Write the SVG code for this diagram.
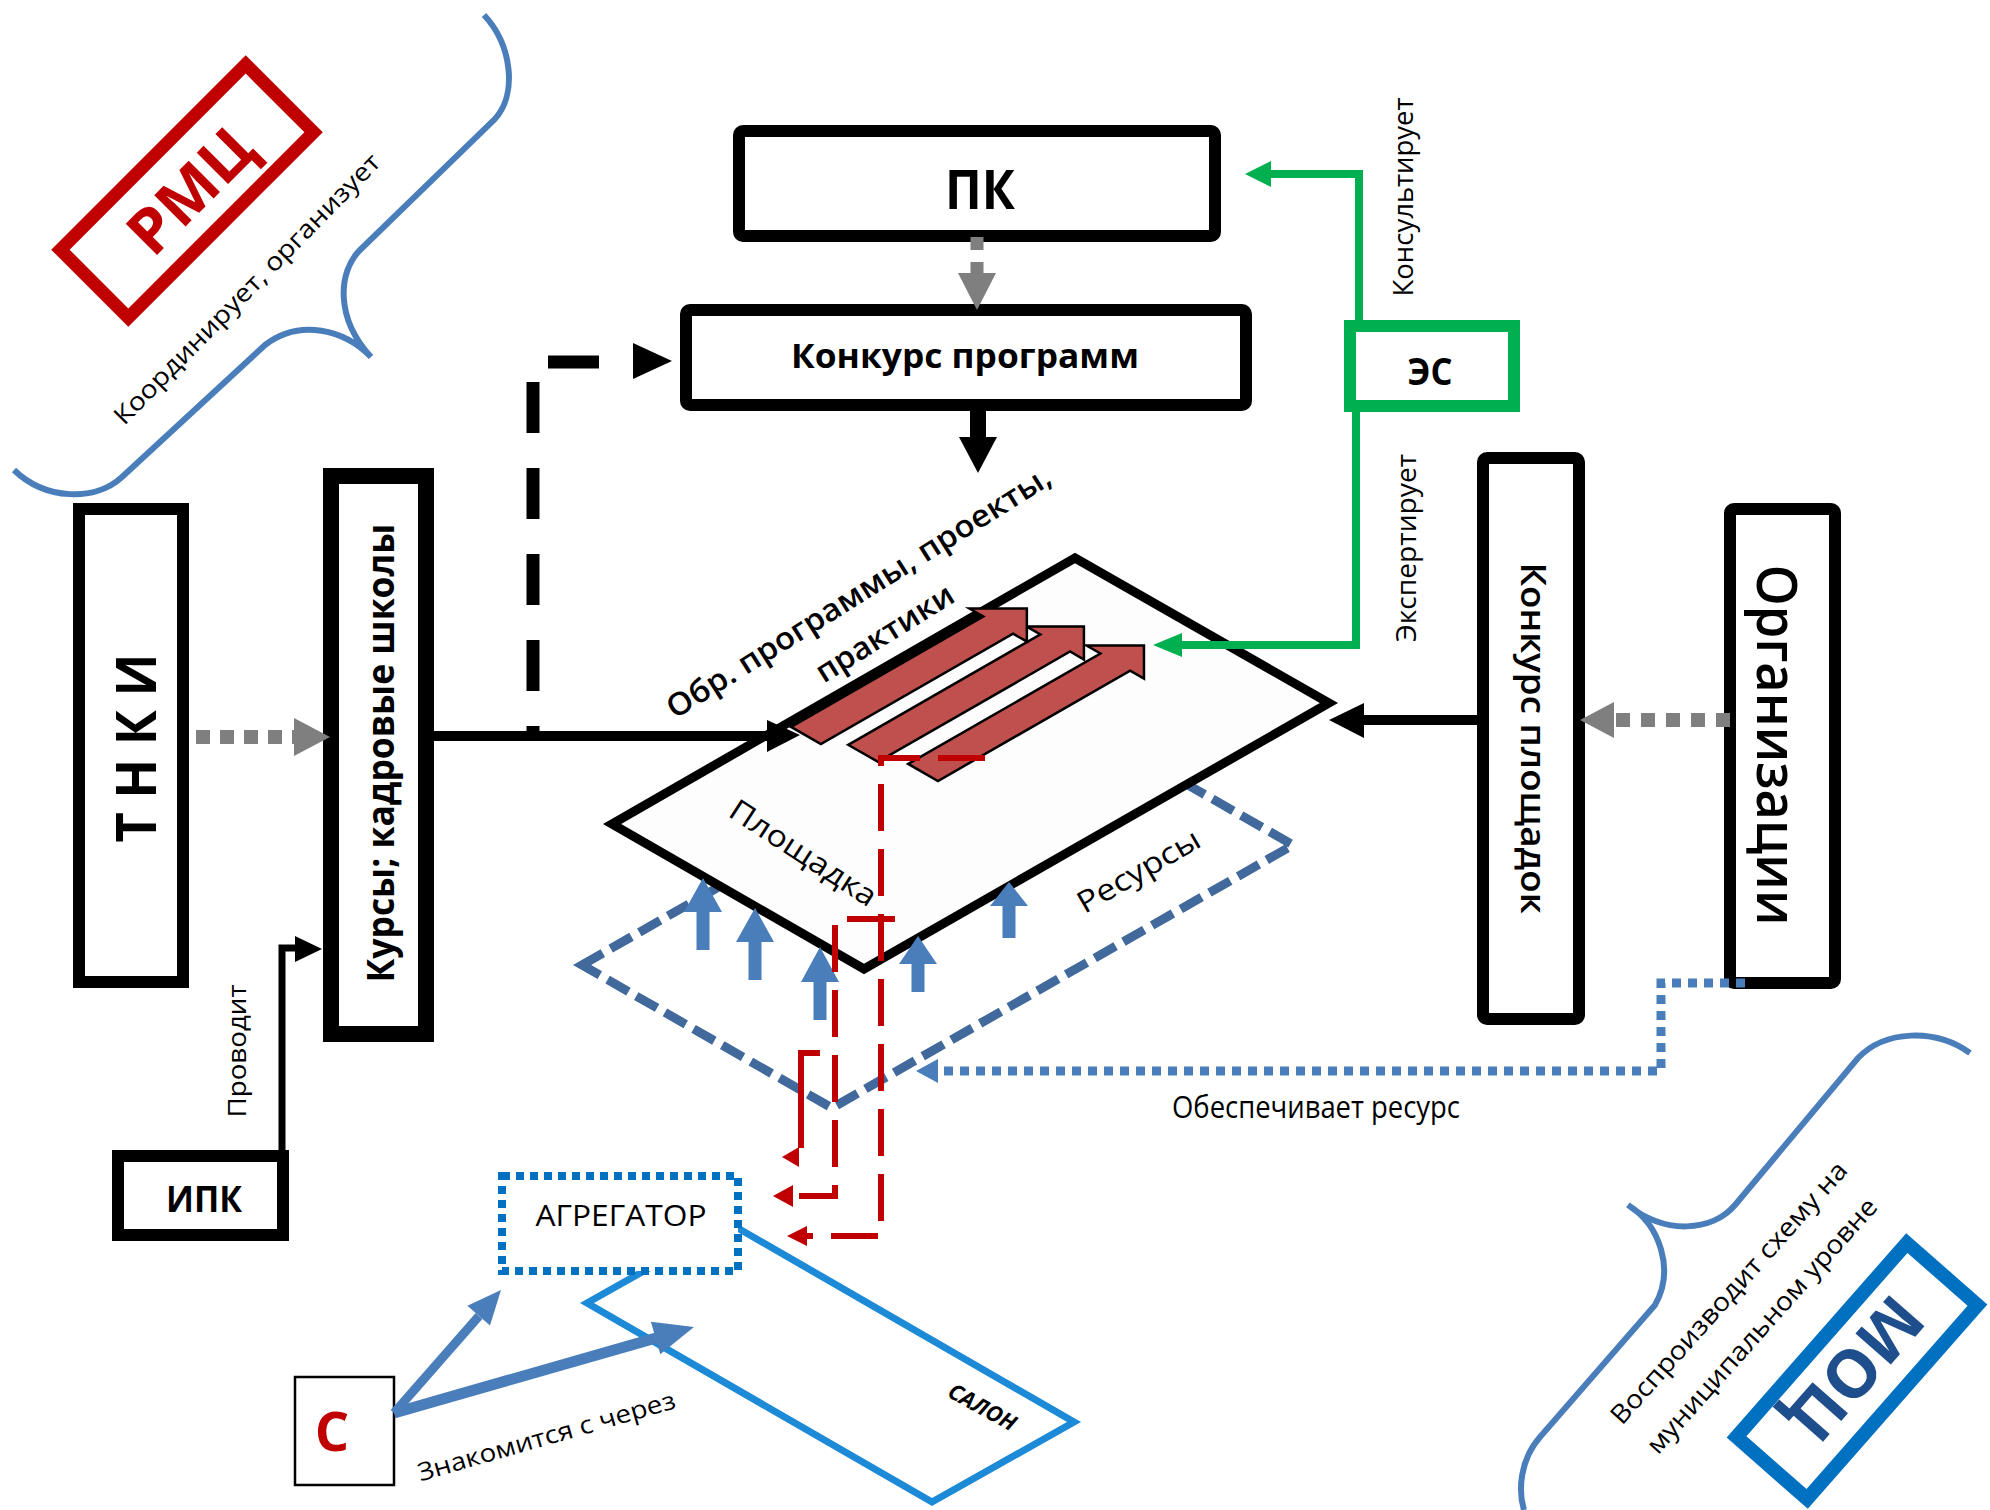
<svg xmlns="http://www.w3.org/2000/svg" width="1990" height="1510" viewBox="0 0 1990 1510">
<defs>
<style>
text{font-family:"Open Sans","Noto Sans","DejaVu Sans",sans-serif;fill:#000;text-anchor:middle;dominant-baseline:central}
.box{fill:#fff;stroke:#000;stroke-width:12}
.b{font-weight:700}
.lbl{font-size:27px}
.gray{stroke:#7f7f7f;stroke-width:13;fill:none;stroke-dasharray:13 12}
.grayh{fill:#7f7f7f}
.blk{stroke:#000;fill:none}
.grn{stroke:#00b050;stroke-width:8;fill:none}
.grnh{fill:#00b050}
.red{stroke:#c00000;stroke-width:6;fill:none;stroke-dasharray:47 18}
.redh{fill:#c00000}
.blue{fill:#4a7ebb}
.ra{fill:#c0504d;stroke:#000;stroke-width:2.5;stroke-linejoin:miter}
</style>
</defs>
<rect width="1990" height="1510" fill="#fff"/>

<!-- background planes -->
<g id="resursy">
<polygon points="582,965 1043,702 1293,845 832,1108" fill="none" stroke="#41699b" stroke-width="9" stroke-dasharray="24 9"/>
</g>
<g id="salon">
<polygon points="587,1303 729,1223 1074,1422 932,1502" fill="#fff" stroke="#1c8ad6" stroke-width="7"/>
<text x="983" y="1406" transform="rotate(29 983 1406)" style="font-size:22px;font-weight:700;font-style:italic">САЛОН</text>
</g>
<g id="ploshadka">
<polygon points="1075,558 1329,703 864,969 612,824" fill="#fdfdfd" stroke="#000" stroke-width="9"/>
<text x="804" y="852" transform="rotate(33 804 852)" style="font-size:30px" textLength="169" lengthAdjust="spacingAndGlyphs">Площадка</text>
</g>
<text x="1138" y="870" transform="rotate(-30 1138 870)" style="font-size:30px" textLength="137" lengthAdjust="spacingAndGlyphs">Ресурсы</text>

<!-- red block arrows on the plane -->
<g id="programs" transform="matrix(4.63,-2.66,2.52,1.45,612,824)">
<polygon class="ra" vector-effect="non-scaling-stroke" points="43.3,38 84.8,38 84.8,32.5 91,43.9 84.8,55.3 84.8,49.8 43.3,49.8"/>
<polygon class="ra" vector-effect="non-scaling-stroke" points="40.4,19.5 81.9,19.5 81.9,14 88.1,25.4 81.9,36.8 81.9,31.3 40.4,31.3"/>
<polygon class="ra" vector-effect="non-scaling-stroke" points="37.6,2 79.1,2 79.1,-3.5 85.3,7.9 79.1,19.3 79.1,13.8 37.6,13.8"/>
</g>
<g id="programs-label" class="b">
<text x="858" y="591" transform="rotate(-32 858 591)" style="font-size:31px;font-weight:600" textLength="447" lengthAdjust="spacingAndGlyphs">Обр. программы, проекты,</text>
<text x="884" y="632" transform="rotate(-32 884 632)" style="font-size:31px;font-weight:600" textLength="157" lengthAdjust="spacingAndGlyphs">практики</text>
</g>

<!-- nodes -->
<g id="rmc">
<path d="M 484,15 C 512,45 518,95 494,120 L 360,250 C 338,272 335,318 371,357 C 345,330 300,318 265,345 L 122,477 C 95,502 45,500 14,470" fill="none" stroke="#4a7ebb" stroke-width="6"/>
<g transform="translate(187,191) rotate(-45)">
<rect x="-131" y="-48" width="262" height="96" fill="#fff" stroke="#c00000" stroke-width="13"/>
<text x="3" y="0" class="b" style="font-size:62px;fill:#c00000" textLength="150" lengthAdjust="spacingAndGlyphs">РМЦ</text>
</g>
<text x="246" y="288" transform="rotate(-45.5 246 288)" style="font-size:25px" textLength="368" lengthAdjust="spacingAndGlyphs">Координирует, организует</text>
</g>

<g id="tnki">
<rect class="box" x="79" y="509" width="104" height="473"/>
<text x="134" y="748" transform="rotate(-90 134 748)" class="b" style="font-size:56px" textLength="189" lengthAdjust="spacingAndGlyphs">Т Н К И</text>
</g>
<g id="kursy">
<rect class="box" x="331" y="476" width="95" height="558" style="stroke-width:16"/>
<text x="379" y="753" transform="rotate(-90 379 753)" class="b" style="font-size:37px" textLength="459" lengthAdjust="spacingAndGlyphs">Курсы; кадровые школы</text>
</g>
<g id="ipk">
<rect class="box" x="118" y="1156" width="165" height="79"/>
<text x="204" y="1198" class="b" style="font-size:36px" textLength="76" lengthAdjust="spacingAndGlyphs">ИПК</text>
</g>
<g id="pk">
<rect class="box" x="739" y="131" width="476" height="105" rx="4"/>
<text x="980" y="188" class="b" style="font-size:54px" textLength="70" lengthAdjust="spacingAndGlyphs">ПК</text>
</g>
<g id="konkurs-programm">
<rect class="box" x="686" y="310" width="560" height="95" rx="4"/>
<text x="965" y="355" class="b" style="font-size:34px" textLength="348" lengthAdjust="spacingAndGlyphs">Конкурс программ</text>
</g>
<g id="es">
<rect x="1350" y="326" width="164" height="80" fill="#fff" stroke="#00b050" stroke-width="12"/>
<text x="1430" y="370" class="b" style="font-size:38px" textLength="45" lengthAdjust="spacingAndGlyphs">ЭС</text>
</g>
<g id="konkurs-ploshadok">
<rect class="box" x="1483" y="458" width="96" height="561" rx="4"/>
<text x="1534" y="738" transform="rotate(90 1534 738)" style="font-size:34px;font-weight:600" textLength="351" lengthAdjust="spacingAndGlyphs">Конкурс площадок</text>
</g>
<g id="organizacii">
<rect class="box" x="1730" y="509" width="105" height="474" rx="4"/>
<text x="1779" y="745" transform="rotate(90 1779 745)" style="font-size:56px;font-weight:600" textLength="361" lengthAdjust="spacingAndGlyphs">Организации</text>
</g>
<g id="agregator">
<rect x="502" y="1176" width="236" height="95" fill="#fff" stroke="#0070c0" stroke-width="8" stroke-dasharray="8 6"/>
<text x="621" y="1214" style="font-size:30px" textLength="171" lengthAdjust="spacingAndGlyphs">АГРЕГАТОР</text>
</g>
<g id="s">
<rect x="295" y="1377" width="99" height="108" fill="#fff" stroke="#000" stroke-width="2.5"/>
<text x="332" y="1430" class="b" style="font-size:54px;fill:#c00000">С</text>
</g>
<g id="moc">
<path d="M 1970,1053 C 1935,1028 1885,1030 1858,1058 L 1735,1205 C 1712,1232 1665,1235 1628,1205 C 1660,1225 1675,1270 1655,1305 L 1540,1437 C 1520,1460 1518,1490 1524,1510" fill="none" stroke="#4a7ebb" stroke-width="6"/>
<g transform="translate(1857,1371) rotate(-48.7)">
<rect x="-129" y="-47" width="258" height="94" fill="#fff" stroke="#0070c0" stroke-width="14"/>
<text x="0" y="0" transform="rotate(180)" class="b" style="font-size:66px;fill:#1f4e8c" textLength="168" lengthAdjust="spacingAndGlyphs">МОЦ</text>
</g>
<text x="1728" y="1292" transform="rotate(-48.3 1728 1292)" style="font-size:26px" textLength="341" lengthAdjust="spacingAndGlyphs">Воспроизводит схему на</text>
<text x="1761" y="1325" transform="rotate(-48.3 1761 1325)" style="font-size:26px" textLength="332" lengthAdjust="spacingAndGlyphs">муниципальном уровне</text>
</g>

<!-- connectors -->
<g id="connectors">
<!-- PK -> Konkurs programm -->
<path class="gray" d="M 977,237 V 275"/>
<polygon class="grayh" points="958,273 996,273 977,310"/>
<!-- Konkurs programm -> plane -->
<path class="blk" d="M 978,405 V 440" stroke-width="16"/>
<polygon points="959,437 997,437 978,473"/>
<!-- dashed from kursy line to konkurs programm -->
<path class="blk" d="M 599,362 H 533 V 736" stroke-width="13" stroke-dasharray="51 35"/>
<polygon points="633,343 672,361 633,379"/>
<!-- TNKI -> Kursy -->
<path class="gray" d="M 196,737 H 296" style="stroke-width:14;stroke-dasharray:14 10"/>
<polygon class="grayh" points="294,718 330,737 294,756"/>
<!-- Kursy -> plane -->
<path class="blk" d="M 426,736 H 770" stroke-width="10"/>
<polygon points="767,720 800,735 767,752"/>
<!-- IPK -> Kursy -->
<path class="blk" d="M 282,1151 V 948 H 298" stroke-width="7"/>
<polygon points="295,936 322,949 295,962"/>
<text x="236" y="1051" transform="rotate(-90 236 1051)" style="font-size:26px" textLength="133" lengthAdjust="spacingAndGlyphs">Проводит</text>
<!-- ES -> PK -->
<path class="grn" d="M 1359,326 V 174 H 1268"/>
<polygon class="grnh" points="1271,161 1245,174 1271,187"/>
<text x="1402" y="197" transform="rotate(-90 1402 197)" class="lbl" textLength="199" lengthAdjust="spacingAndGlyphs">Консультирует</text>
<!-- ES -> plane -->
<path class="grn" d="M 1356,406 V 645 H 1178"/>
<polygon class="grnh" points="1182,633 1153,645 1182,657"/>
<text x="1405" y="548" transform="rotate(-90 1405 548)" class="lbl" textLength="188" lengthAdjust="spacingAndGlyphs">Экспертирует</text>
<!-- Organizacii -> Konkurs ploshadok -->
<path class="gray" d="M 1730,720 H 1612" style="stroke-width:14;stroke-dasharray:14 11"/>
<polygon class="grayh" points="1614,702 1580,720 1614,738"/>
<!-- Konkurs ploshadok -> plane -->
<path class="blk" d="M 1483,720 H 1360" stroke-width="10"/>
<polygon points="1364,703 1329,720 1364,738"/>
<!-- Organizacii -> resources -->
<path d="M 1745,983 H 1661 V 1071 H 934" fill="none" stroke="#4a7ebb" stroke-width="9" stroke-dasharray="9 7"/>
<polygon class="blue" points="938,1059 916,1071 938,1083"/>
<text x="1316" y="1106" style="font-size:31px" textLength="288" lengthAdjust="spacingAndGlyphs">Обеспечивает ресурс</text>
<!-- resource arrows up -->
<path class="blue" d="M 703,878 L 722,912 L 709.5,912 L 709.5,950 L 696.5,950 L 696.5,912 L 684,912 Z"/>
<path class="blue" d="M 755,908 L 774,942 L 761.5,942 L 761.5,980 L 748.5,980 L 748.5,942 L 736,942 Z"/>
<path class="blue" d="M 820,947 L 839,982 L 826.5,982 L 826.5,1020 L 813.5,1020 L 813.5,982 L 801,982 Z"/>
<path class="blue" d="M 918,936 L 937,964 L 924.5,964 L 924.5,992 L 911.5,992 L 911.5,964 L 899,964 Z"/>
<path class="blue" d="M 1009,882 L 1028,906 L 1015.5,906 L 1015.5,938 L 1002.5,938 L 1002.5,906 L 990,906 Z"/>
<!-- red dashed links to aggregator -->
<path class="red" d="M 985,758 H 881 V 1236 H 806"/>
<polygon class="redh" points="807,1226 787,1236 807,1246"/>
<path d="M 847,919 H 895" stroke="#c00000" stroke-width="6"/>
<path class="red" d="M 835,925 V 1196 H 792"/>
<polygon class="redh" points="793,1185 773,1196 793,1207"/>
<path class="red" d="M 820,1053 H 801 V 1148" style="stroke-dasharray:none"/>
<polygon class="redh" points="799,1147 782,1157 799,1167"/>
<!-- S -> aggregator / salon -->
<path d="M 394,1413 L 479,1316" stroke="#4a7ebb" stroke-width="9" fill="none"/>
<polygon class="blue" points="501,1290 490,1325.4 467.4,1305.8"/>
<path d="M 394,1413 L 656,1338" stroke="#4a7ebb" stroke-width="11" fill="none"/>
<polygon class="blue" points="694,1327 660.3,1354.3 650.9,1321.7"/>
<text x="546" y="1435" transform="rotate(-16 546 1435)" style="font-size:25px" textLength="267" lengthAdjust="spacingAndGlyphs">Знакомится с через</text>
</g>
</svg>
